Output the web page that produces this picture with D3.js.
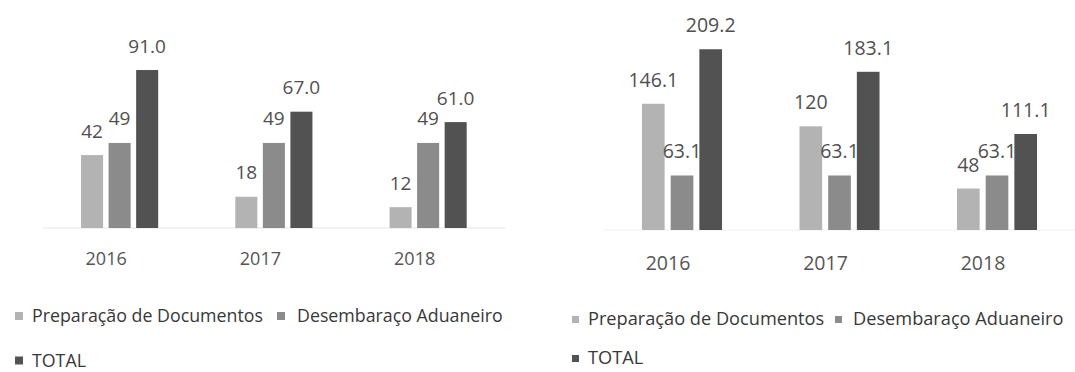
<!DOCTYPE html>
<html>
<head>
<meta charset="utf-8">
<script src="https://cdn.jsdelivr.net/npm/d3@7"></script>
<style>
  html, body { margin: 0; padding: 0; background: #ffffff; }
  svg { display: block; }
  text { font-family: "Open Sans", "Noto Sans", sans-serif; }
</style>
</head>
<body>
<svg id="chart" width="1075" height="372"></svg>
<script>
// Categories and series
const years = ["2016", "2017", "2018"];
const seriesNames = ["Preparação de Documentos", "Desembaraço Aduaneiro", "TOTAL"];
const seriesColors = ["#b3b3b3", "#8b8b8b", "#525252"];

// Left panel values
const leftPrep = [42, 18, 12];
const leftDesemb = [49, 49, 49];
const leftTotal = [91.0, 67.0, 61.0];

// Right panel values
const rightPrep = [146.1, 120, 48];
const rightDesemb = [63.1, 63.1, 63.1];
const rightTotal = [209.2, 183.1, 111.1];

const svg = d3.select("#chart");

function drawPanel(cfg) {
  const g = svg.append("g");
  const series = cfg.series;

  const x0 = d3.scaleBand().domain(years).range(cfg.xRange).padding(0);
  const x1 = d3.scaleBand().domain(d3.range(series.length))
    .range([0, x0.bandwidth()]).paddingInner(cfg.barPad).paddingOuter(cfg.groupPad);
  const y = d3.scaleLinear().domain(cfg.yDomain).range([cfg.baseline, cfg.yTop]);

  // faint category axis line
  g.append("line")
    .attr("x1", cfg.xRange[0]).attr("x2", cfg.xRange[1])
    .attr("y1", y(0)).attr("y2", y(0))
    .attr("stroke", cfg.axisColor).attr("stroke-width", 1);

  // one layer per series: bars then their value labels
  series.forEach((vals, si) => {
    const layer = g.append("g");
    layer.selectAll("rect").data(vals).join("rect")
      .attr("x", (d, i) => x0(years[i]) + x1(si))
      .attr("y", d => y(d))
      .attr("width", x1.bandwidth())
      .attr("height", d => y(0) - y(d))
      .attr("fill", seriesColors[si]);
    layer.selectAll("text").data(vals).join("text")
      .attr("x", (d, i) => x0(years[i]) + x1(si) + x1.bandwidth() / 2)
      .attr("y", d => y(d) - cfg.labelGap)
      .attr("text-anchor", "middle")
      .attr("font-size", cfg.valueSize)
      .attr("fill", "#505050")
      .text(d => cfg.formats[si](d));
  });

  // category labels
  const axis = d3.axisBottom(x0).tickSize(0).tickPadding(0);
  const ax = g.append("g").attr("transform", `translate(0,${cfg.yearY})`).call(axis);
  ax.select(".domain").remove();
  ax.selectAll("text")
    .attr("dx", cfg.yearDx)
    .attr("dy", 0)
    .attr("font-family", null)
    .attr("font-size", cfg.yearSize)
    .attr("fill", "#555555");

  // legend
  const lg = g.append("g");
  cfg.legend.forEach((it, i) => {
    lg.append("rect")
      .attr("x", it.x).attr("y", it.y - cfg.swatch + 1)
      .attr("width", cfg.swatch).attr("height", cfg.swatch)
      .attr("fill", seriesColors[i]);
    lg.append("text")
      .attr("x", it.tx).attr("y", it.y + 3)
      .attr("font-size", cfg.legendSize)
      .attr("fill", "#383838")
      .text(seriesNames[i]);
  });
}

const plain = d => String(d);
const oneDec = d3.format(".1f");

drawPanel({
  series: [leftPrep, leftDesemb, leftTotal],
  formats: [plain, plain, oneDec],
  xRange: [42.5, 505.25],
  barPad: 0.2, groupPad: 1.4,
  yDomain: [0, 100], baseline: 228, yTop: 54.4,
  labelGap: 17.5, valueSize: 19,
  yearY: 264.5, yearDx: -13.5, yearSize: 18,
  axisColor: "#e4e4e4",
  swatch: 8, legendSize: 17.8,
  legend: [{x: 15, tx: 32, y: 319}, {x: 277, tx: 297, y: 319}, {x: 15, tx: 32, y: 363.5}]
});

drawPanel({
  series: [rightPrep, rightDesemb, rightTotal],
  formats: [plain, plain, plain],
  xRange: [603.25, 1075.75],
  barPad: 0.21, groupPad: 1.35,
  yDomain: [0, 250], baseline: 230, yTop: 14,
  labelGap: 17, valueSize: 19.5,
  yearY: 269.5, yearDx: -14, yearSize: 19.5,
  axisColor: "#f0f0f0",
  swatch: 7, legendSize: 18.2,
  legend: [{x: 572, tx: 588, y: 322}, {x: 835, tx: 853, y: 322}, {x: 572, tx: 588, y: 361}]
});
</script>
</body>
</html>
